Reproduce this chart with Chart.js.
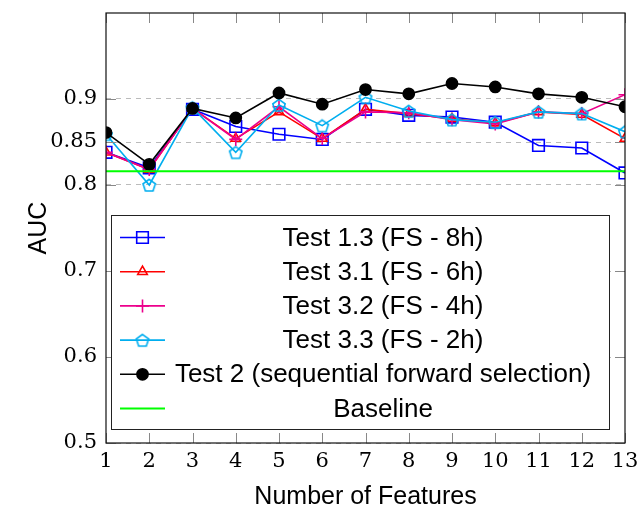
<!DOCTYPE html>
<html>
<head>
<meta charset="utf-8">
<script src="https://cdn.jsdelivr.net/npm/chart.js@4"></script>
<style>
  html, body { margin: 0; padding: 0; background: #fff; }
  #wrap { width: 638px; height: 510px; }
</style>
</head>
<body>
<div id="wrap"><canvas id="chart1" width="638" height="510"></canvas></div>
<script>
// values
const features = [1, 2, 3, 4, 5, 6, 7, 8, 9, 10, 11, 12, 13];
const test13 = [0.838, 0.820, 0.888, 0.868, 0.859, 0.853, 0.888, 0.881, 0.879, 0.873, 0.846, 0.843, 0.814];
const test31 = [0.838, 0.818, 0.889, 0.854, 0.885, 0.854, 0.888, 0.883, 0.877, 0.872, 0.885, 0.882, 0.854];
const test32 = [0.838, 0.818, 0.889, 0.853, 0.891, 0.854, 0.885, 0.884, 0.876, 0.871, 0.885, 0.883, 0.905];
const test33 = [0.859, 0.800, 0.890, 0.838, 0.893, 0.869, 0.902, 0.886, 0.876, 0.873, 0.885, 0.883, 0.862];
const test2 = [0.861, 0.824, 0.889, 0.878, 0.907, 0.894, 0.911, 0.906, 0.918, 0.914, 0.906, 0.902, 0.891];
const baseline = 0.816;
const yTicks = [0.5, 0.6, 0.7, 0.8, 0.85, 0.9];
const seriesNames = ['Test 1.3 (FS - 8h)', 'Test 3.1 (FS - 6h)', 'Test 3.2 (FS - 4h)',
    'Test 3.3 (FS - 2h)', 'Test 2 (sequential forward selection)', 'Baseline'];

const BLUE = '#0000ff', RED = '#ff0000', MAGENTA = '#ec008c', CYAN = '#00aeef', GREEN = '#00ff00';

// pentagon marker (no built-in style for it)
function makePentagon(color) {
    const c = document.createElement('canvas');
    c.width = 18; c.height = 18;
    const g = c.getContext('2d');
    g.strokeStyle = color;
    g.lineWidth = 1.6;
    g.beginPath();
    for (let i = 0; i < 5; i++) {
        const a = -Math.PI / 2 + i * 2 * Math.PI / 5;
        const px = 9 + 6.5 * Math.cos(a), py = 9.8 + 6.5 * Math.sin(a);
        if (i === 0) g.moveTo(px, py); else g.lineTo(px, py);
    }
    g.closePath();
    g.stroke();
    return c;
}
const pentagon = makePentagon(CYAN);

function toPoints(vals) {
    return vals.map((v, i) => ({ x: features[i], y: v }));
}

function series(label, vals, color, style, radius, fill) {
    return {
        label: label,
        data: toPoints(vals),
        borderColor: color,
        backgroundColor: color,
        borderWidth: 1.6,
        pointStyle: style,
        pointRadius: radius,
        pointHoverRadius: radius,
        pointBorderColor: color,
        pointBackgroundColor: fill || 'rgba(0,0,0,0)',
        pointBorderWidth: 1.6,
        tension: 0
    };
}

const datasets = [
    series(seriesNames[0], test13, BLUE, 'rect', 8.2),
    series(seriesNames[1], test31, RED, 'triangle', 5.5),
    series(seriesNames[2], test32, MAGENTA, 'cross', 6.5),
    series(seriesNames[3], test33, CYAN, pentagon, 7),
    series(seriesNames[4], test2, '#000000', 'circle', 5.6, '#000000'),
    {
        label: seriesNames[5],
        data: [{ x: features[0], y: baseline }, { x: features[features.length - 1], y: baseline }],
        borderColor: GREEN,
        borderWidth: 1.8,
        pointRadius: 0,
        pointStyle: false
    }
];
// later series on top, like the original
datasets.forEach((d, i) => { d.order = datasets.length - i; });

// frame with inward ticks plus the boxed legend
const framePlugin = {
    id: 'frame',
    afterDatasetsDraw(chart) {
        const ctx = chart.ctx;
        const a = chart.chartArea;
        const xs = chart.scales.x, ys = chart.scales.y;
        ctx.save();
        ctx.strokeStyle = '#888';
        ctx.lineWidth = 1;
        ctx.beginPath();
        features.forEach(f => {
            const px = Math.round(xs.getPixelForValue(f)) + 0.5;
            ctx.moveTo(px, a.bottom); ctx.lineTo(px, a.bottom - 10);
            ctx.moveTo(px, a.top); ctx.lineTo(px, a.top + 10);
        });
        yTicks.forEach(v => {
            const py = Math.round(ys.getPixelForValue(v)) + 0.5;
            ctx.moveTo(a.left, py); ctx.lineTo(a.left + 10, py);
            ctx.moveTo(a.right, py); ctx.lineTo(a.right - 10, py);
        });
        ctx.stroke();

        // legend box
        const lx = 111, ly = 215, lw = 498, lh = 214;
        ctx.fillStyle = '#fff';
        ctx.fillRect(lx, ly, lw, lh);
        ctx.strokeStyle = '#222';
        ctx.strokeRect(lx + 0.5, ly + 0.5, lw, lh);
        ctx.font = '26px "Liberation Sans", Arial, sans-serif';
        ctx.textAlign = 'center';
        ctx.textBaseline = 'middle';
        datasets.forEach((d, i) => {
            const cy = 237.5 + i * 34.2;
            ctx.strokeStyle = d.borderColor;
            ctx.lineWidth = d.borderWidth;
            ctx.beginPath();
            ctx.moveTo(120, cy); ctx.lineTo(165, cy);
            ctx.stroke();
            if (d.pointRadius > 0) {
                ctx.fillStyle = d.pointBackgroundColor;
                ctx.lineWidth = d.pointBorderWidth;
                Chart.helpers.drawPoint(ctx, {
                    pointStyle: d.pointStyle, radius: d.pointRadius, rotation: 0, borderWidth: d.pointBorderWidth
                }, 142.5, cy);
            }
            ctx.fillStyle = '#000';
            ctx.fillText(d.label, 383, cy + 1);
        });

        // axis box
        ctx.strokeStyle = '#111';
        ctx.lineWidth = 1.2;
        ctx.strokeRect(a.left, a.top, a.right - a.left, a.bottom - a.top);
        ctx.restore();
    }
};

const tickFont = { family: '"DejaVu Serif", serif', size: 21 };
const titleFont = { family: '"Liberation Sans", Arial, sans-serif', size: 25, lineHeight: 1 };

new Chart(document.getElementById('chart1').getContext('2d'), {
    type: 'line',
    data: { datasets: datasets },
    options: {
        responsive: false,
        animation: false,
        events: [],
        layout: { padding: { top: 13, right: 13, left: 0, bottom: 0 } },
        plugins: {
            legend: { display: false },
            tooltip: { enabled: false }
        },
        scales: {
            x: {
                type: 'linear',
                min: 1,
                max: 13,
                afterFit: s => { s.height = 67; s.paddingLeft = 0; s.paddingRight = 0; },
                afterBuildTicks: s => { s.ticks = features.map(v => ({ value: v })); },
                ticks: { color: '#000', font: tickFont, padding: 6, autoSkip: false, maxRotation: 0, callback: v => String(v) },
                grid: { display: false, drawTicks: false },
                border: { display: false },
                title: { display: true, text: 'Number of Features', color: '#000', font: titleFont, padding: { top: 0, bottom: 0 } }
            },
            y: {
                type: 'linear',
                min: 0.5,
                max: 1.0,
                afterFit: s => { s.width = 106; s.paddingTop = 0; s.paddingBottom = 0; },
                afterBuildTicks: s => { s.ticks = yTicks.map(v => ({ value: v })); },
                ticks: { color: '#000', font: tickFont, padding: 9, callback: v => String(v) },
                grid: { color: '#bbb', lineWidth: 1, drawTicks: false },
                border: { display: false, dash: [5, 5] },
                title: { display: true, text: 'AUC', color: '#000', font: titleFont, padding: { top: 27, bottom: 0 } }
            }
        }
    },
    plugins: [framePlugin]
});
</script>
</body>
</html>
